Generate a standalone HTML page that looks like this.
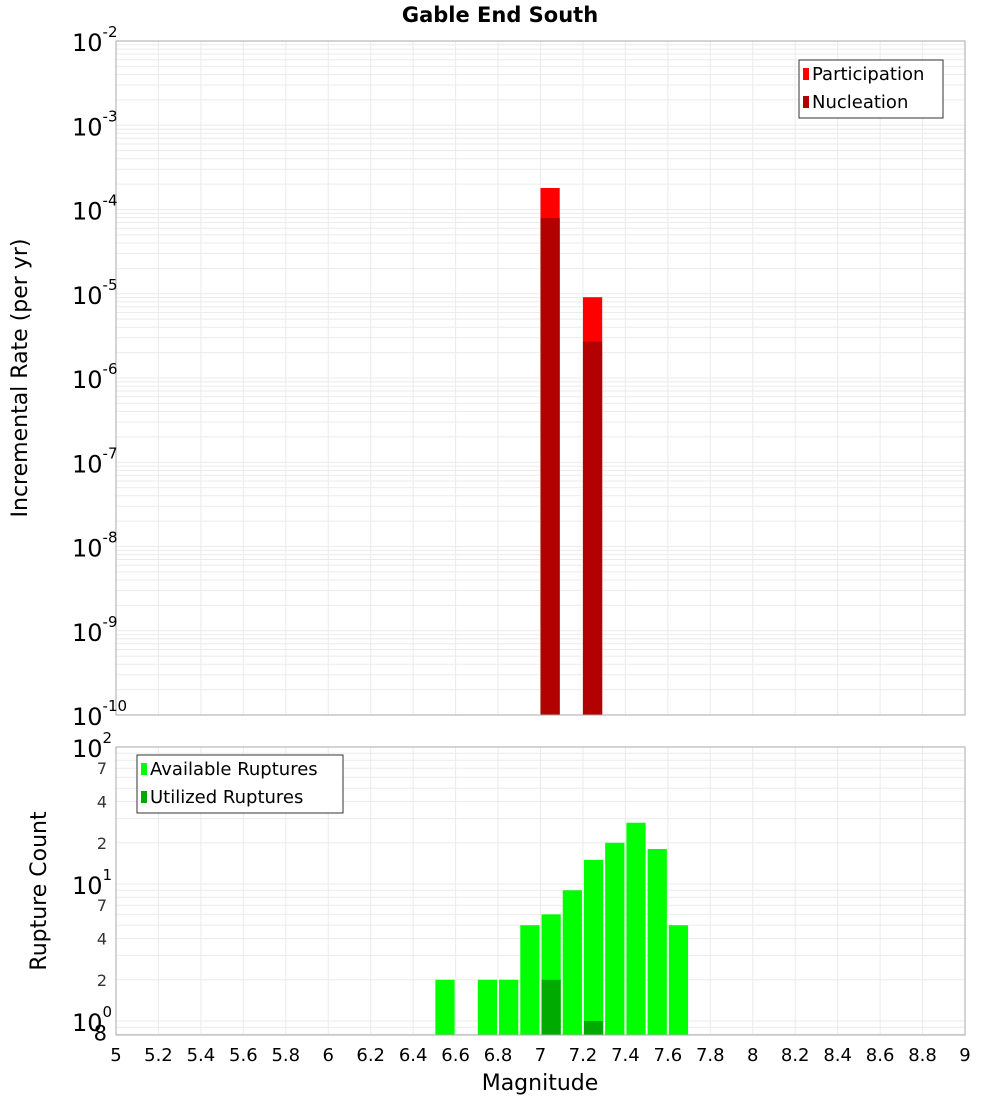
<!DOCTYPE html>
<html><head><meta charset="utf-8"><style>
body{margin:0;background:#fff;}
svg text{font-family:"DejaVu Sans","Liberation Sans",sans-serif;}
</style></head><body>
<svg id="c" width="1000" height="1100" xmlns="http://www.w3.org/2000/svg"></svg>
<script>
const binStarts1=[7.0,7.2];
const participation=[1.8e-4,9.1e-6];
const nucleation=[7.9e-5,2.7e-6];
const binStarts2=[6.5,6.7,6.8,6.9,7.0,7.1,7.2,7.3,7.4,7.5,7.6];
const available=[2,2,2,5,6,9,15,20,28,18,5];
const utilBins=[7.0,7.2];
const utilized=[2,1];
const xTicks=[5,5.2,5.4,5.6,5.8,6,6.2,6.4,6.6,6.8,7,7.2,7.4,7.6,7.8,8,8.2,8.4,8.6,8.8,9];

const NS="http://www.w3.org/2000/svg";
const svg=document.getElementById('c');
function mk(t,a,p){const e=document.createElementNS(NS,t);for(const k in a)e.setAttribute(k,a[k]);(p||svg).appendChild(e);return e;}
const X0=116,X1=965;
const xs=v=>X0+(v-5)/4*(X1-X0);
const T0=41,T1=715;
const y1=v=>T1-(Math.log10(v)+10)*(T1-T0)/8;
const B0=747,BONE=1021,B1=1035,DEC=137;
const y2=v=>BONE-Math.log10(v)*DEC;

const title=mk('text',{x:500,y:22,'text-anchor':'middle','font-size':21,'font-weight':'bold'});
title.textContent='Gable End South';



function vgrid(top,bot){for(let v=5;v<=9.001;v+=0.2){const l=mk('line',{x1:xs(v),x2:xs(v),y1:top,y2:bot,stroke:'#ebebeb'});}}
vgrid(T0,T1);
for(let d=-10;d<-2;d++){for(let m=1;m<10;m++){const v=m*Math.pow(10,d);const y=y1(v);const l=mk('line',{x1:X0,x2:X1,y1:y,y2:y,stroke:'#ebebeb'});}}
vgrid(B0,B1);
for(let d=-1;d<2;d++){for(let m=1;m<10;m++){const v=m*Math.pow(10,d);const y=y2(v);if(y<B0||y>B1)continue;const l=mk('line',{x1:X0,x2:X1,y1:y,y2:y,stroke:'#ebebeb'});}}

binStarts1.forEach((b,i)=>{
 const x=xs(b),w=xs(b+0.1)-xs(b)-2;
 let r=mk('rect',{x:x,y:y1(participation[i]),width:w,height:T1-y1(participation[i]),fill:'#ff0000'});
 
 r=mk('rect',{x:x,y:y1(nucleation[i]),width:w,height:T1-y1(nucleation[i]),fill:'#b30000'});
 
});
binStarts2.forEach((b,i)=>{
 const x=xs(b)+1,w=xs(b+0.1)-xs(b)-2;
 const r=mk('rect',{x:x,y:y2(available[i]),width:w,height:B1-y2(available[i]),fill:'#00ff00'});
 
});
utilBins.forEach((b,i)=>{
 const x=xs(b)+1,w=xs(b+0.1)-xs(b)-2;
 const r=mk('rect',{x:x,y:y2(utilized[i]),width:w,height:B1-y2(utilized[i]),fill:'#00aa00'});
 
});
let f=mk('rect',{x:X0,y:T0,width:X1-X0,height:T1-T0,fill:'none',stroke:'#aaa'});

f=mk('rect',{x:X0,y:B0,width:X1-X0,height:B1-B0,fill:'none',stroke:'#aaa'});


for(let d=-10;d<=-2;d++){
 const y=y1(Math.pow(10,d));
 const t=mk('text',{x:72,y:y+10,'font-size':24});
 t.innerHTML='10<tspan font-size="15" dy="-14">'+d+'</tspan>';
 
}
[[2,100],[1,10],[0,1]].forEach(([e,v])=>{
 const t=mk('text',{x:72,y:y2(v)+10,'font-size':24});
 t.innerHTML='10<tspan font-size="15" dy="-14">'+e+'</tspan>';
 
});
[[7,70],[4,40],[2,20],[7,7],[4,4],[2,2],[8,0.8]].forEach(([s,v])=>{
 const t=mk('text',{x:107,y:y2(v)+6,'font-size':(v<1?21:16),'text-anchor':'end',fill:(v<1?'#000':'#333')});
 t.textContent=s;
 
});
xTicks.forEach(v=>{
 const t=mk('text',{x:xs(v),y:1061,'font-size':18,'text-anchor':'middle'});
 t.textContent=String(v);
 
});
let t=mk('text',{x:540,y:1090,'font-size':22,'text-anchor':'middle'});t.textContent='Magnitude';

t=mk('text',{x:0,y:0,'font-size':22,'text-anchor':'middle',transform:'translate(27,378) rotate(-90)'});t.textContent='Incremental Rate (per yr)';

t=mk('text',{x:0,y:0,'font-size':22,'text-anchor':'middle',transform:'translate(46,891) rotate(-90)'});t.textContent='Rupture Count';


function legend(x,y,w,items,name){
 const g=mk('g',{});
 mk('rect',{x:x,y:y,width:w,height:58,fill:'#fff',stroke:'#333'},g);
 items.forEach((it,i)=>{
  mk('rect',{x:x+4,y:y+8+i*28,width:6,height:12,fill:it[1]},g);
  const tt=mk('text',{x:x+13,y:y+20+i*28,'font-size':18},g);tt.textContent=it[0];
 });
}
legend(799,60,144,[['Participation','#ff0000'],['Nucleation','#b30000']],'legend-top');
legend(137,755,206,[['Available Ruptures','#00ff00'],['Utilized Ruptures','#00aa00']],'legend-bottom');
</script>
</body></html>
